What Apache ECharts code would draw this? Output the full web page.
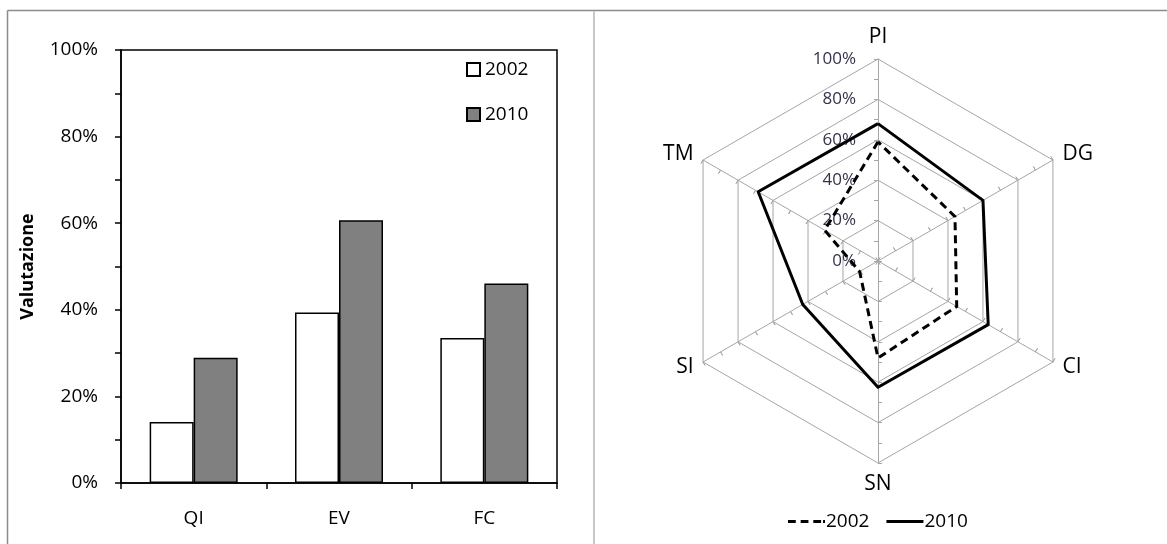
<!DOCTYPE html>
<html>
<head>
<meta charset="utf-8">
<script src="https://cdn.jsdelivr.net/npm/echarts@6/dist/echarts.min.js"></script>
<style>
  html, body { margin: 0; padding: 0; background: #fff; }
  #chart { width: 1167px; height: 544px; }
</style>
</head>
<body>
<div id="chart"></div>
<script>
// Bar chart: share of positive evaluations per area
const barCategories = ['QI', 'EV', 'FC'];
const bar2002 = [14.1, 39.4, 33.5];
const bar2010 = [28.9, 60.7, 46.1];

// Radar chart: profile of the six dimensions, listed clockwise from the top
const radarIndicators = ['PI', 'DG', 'CI', 'SN', 'SI', 'TM'];
const radar2002 = [59, 44, 45, 48, 10.5, 30.5];
const radar2010 = [68, 60, 63, 62.5, 43, 68.5];

const years = ['2002', '2010'];
// radar entries get their own keys so the two legends stay independent
const radarKeys = ['2002 ', '2010 '];

const FONT = '"Open Sans", "Liberation Sans", sans-serif';
const GRID_GREY = '#a6a6a6';

// ECharts lays radar indicators out counter-clockwise; reorder to go clockwise
const cwOrder = [0, 5, 4, 3, 2, 1];
const cw = (arr) => cwOrder.map((i) => arr[i]);

function indicatorList(withLabels) {
  return cw(radarIndicators).map((name, i) => {
    const ind = { name: name, min: 0, max: 100 };
    if (withLabels && i === 0) {
      ind.axisLabel = {
        show: true,
        formatter: '{value}%',
        color: '#33334a',
        fontSize: 17,
        fontFamily: FONT,
        margin: 22
      };
    }
    return ind;
  });
}

const tickRadar = (inside) => ({
  center: [878, 261],
  radius: 202,
  startAngle: 90,
  shape: 'polygon',
  splitNumber: 10,
  indicator: indicatorList(false),
  axisName: { show: false },
  axisLine: { show: false },
  splitLine: { show: false },
  splitArea: { show: false },
  axisLabel: { show: false },
  axisTick: { show: true, inside: inside, length: 4, lineStyle: { color: GRID_GREY, width: 1 } }
});

const DASH_ICON = 'path://M0,0h8v3h-8zM13,0h8v3h-8zM26,0h8v3h-8zM36,0h2v3h-2z';

const chart = echarts.init(document.getElementById('chart'), null, { renderer: 'canvas' });

chart.setOption({
  backgroundColor: '#ffffff',
  animation: false,
  textStyle: { fontFamily: FONT, color: '#000' },
  graphic: [
    { type: 'line', shape: { x1: 7.5, y1: 10.5, x2: 1167, y2: 10.5 }, style: { stroke: '#8c8c8c', lineWidth: 1.5 } },
    { type: 'line', shape: { x1: 7.5, y1: 10.5, x2: 7.5, y2: 544 }, style: { stroke: '#8c8c8c', lineWidth: 1.5 } },
    { type: 'line', shape: { x1: 594, y1: 11, x2: 594, y2: 544 }, style: { stroke: '#c8c8c8', lineWidth: 2 } }
  ],
  legend: [
    {
      data: years.map((y) => ({ name: y, icon: 'rect' })),
      orient: 'vertical',
      left: 466,
      top: 60,
      padding: 0,
      itemWidth: 13,
      itemHeight: 13,
      itemGap: 26,
      textStyle: { fontSize: 19, fontFamily: FONT, color: '#000', padding: [0, 0, 0, 0] }
    },
    {
      data: [
        { name: radarKeys[0], icon: DASH_ICON },
        { name: radarKeys[1], icon: 'rect' }
      ],
      orient: 'horizontal',
      left: 788,
      top: 512,
      padding: 0,
      itemWidth: 37,
      itemHeight: 3,
      itemGap: 17,
      formatter: (name) => name.trim(),
      itemStyle: { color: '#000', borderWidth: 0 },
      textStyle: { fontSize: 19, fontFamily: FONT, color: '#000', padding: [0, 0, 0, -4] }
    }
  ],
  grid: {
    left: 121,
    top: 50,
    width: 436,
    height: 433,
    show: true,
    borderColor: '#000',
    borderWidth: 1.5,
    backgroundColor: 'transparent'
  },
  xAxis: {
    type: 'category',
    data: barCategories,
    axisLine: { lineStyle: { color: '#000', width: 1.5 } },
    axisTick: { show: true, length: 6, lineStyle: { color: '#000', width: 1.5 } },
    axisLabel: { fontSize: 19, color: '#000', margin: 26, fontFamily: FONT }
  },
  yAxis: {
    type: 'value',
    min: 0,
    max: 100,
    interval: 20,
    name: 'Valutazione',
    nameLocation: 'middle',
    nameGap: 84,
    nameTextStyle: { fontSize: 18, fontWeight: 'bold', color: '#000', fontFamily: FONT },
    axisLine: { show: true, lineStyle: { color: '#000', width: 1.5 } },
    axisTick: { show: true, length: 6, lineStyle: { color: '#000', width: 1.5 } },
    minorTick: { show: true, splitNumber: 2, length: 6, lineStyle: { color: '#000', width: 1.5 } },
    splitLine: { show: false },
    axisLabel: { formatter: '{value}%', fontSize: 19, color: '#000', margin: 23, fontFamily: FONT }
  },
  radar: [
    {
      center: [878, 261],
      radius: 202,
      startAngle: 90,
      shape: 'polygon',
      splitNumber: 5,
      indicator: indicatorList(true),
      axisName: { color: '#000', fontSize: 21, fontFamily: FONT },
      nameGap: 11,
      axisLine: { lineStyle: { color: GRID_GREY, width: 1 } },
      splitLine: { lineStyle: { color: GRID_GREY, width: 1 } },
      splitArea: { show: false },
      axisTick: { show: false },
      axisLabel: { show: false }
    },
    tickRadar(true),
    tickRadar(false)
  ],
  series: [
    {
      name: years[0],
      type: 'bar',
      data: bar2002,
      barWidth: 44,
      barGap: '0%',
      itemStyle: { color: '#ffffff', borderColor: '#000', borderWidth: 1.5 }
    },
    {
      name: years[1],
      type: 'bar',
      data: bar2010,
      barWidth: 44,
      barGap: '0%',
      itemStyle: { color: '#808080', borderColor: '#000', borderWidth: 1.5 }
    },
    {
      type: 'radar',
      radarIndex: 0,
      symbol: 'none',
      z: 5,
      data: [
        {
          name: radarKeys[0],
          value: cw(radar2002),
          lineStyle: { color: '#000', width: 3, type: [8, 5] },
          itemStyle: { color: '#000' }
        },
        {
          name: radarKeys[1],
          value: cw(radar2010),
          lineStyle: { color: '#000', width: 3, type: 'solid' },
          itemStyle: { color: '#000' }
        }
      ]
    }
  ]
});
</script>
</body>
</html>
